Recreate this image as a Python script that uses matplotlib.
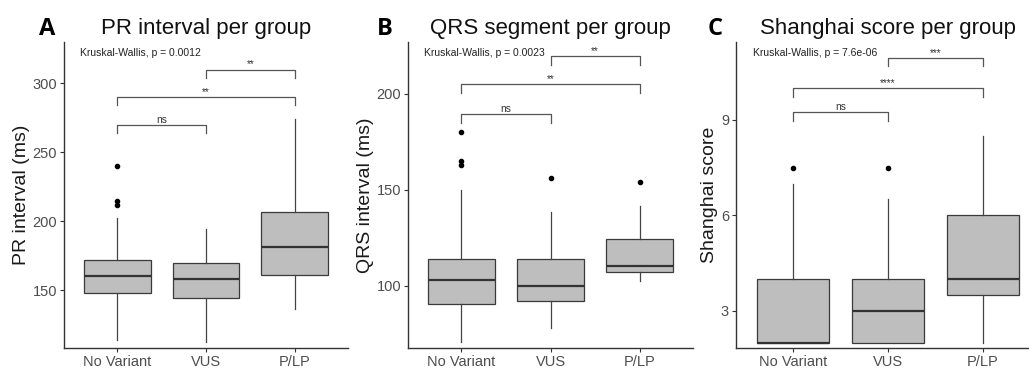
import matplotlib
matplotlib.use("Agg")
import matplotlib.pyplot as plt

groups = ["No Variant", "VUS", "P/LP"]

# A - PR interval
pr_q1 = [148, 144, 161]
pr_med = [160, 158, 181]
pr_q3 = [172, 170, 206.5]
pr_lo = [114, 112, 136]
pr_hi = [202, 194, 274]
pr_out = [[240, 215, 212], [], []]
pr_brackets = [270, 290, 310]
pr_stars = ["ns", "**", "**"]
pr_kw = "Kruskal-Wallis, p = 0.0012"

# B - QRS interval
qrs_q1 = [90.5, 92, 107.5]
qrs_med = [103, 100, 110.5]
qrs_q3 = [114, 114, 124.5]
qrs_lo = [71, 78, 102.5]
qrs_hi = [150, 138.5, 141.5]
qrs_out = [[180, 165, 163], [156], [154]]
qrs_brackets = [189.5, 205, 219.5]
qrs_stars = ["ns", "**", "**"]
qrs_kw = "Kruskal-Wallis, p = 0.0023"

# C - Shanghai score
sh_q1 = [2, 2, 3.5]
sh_med = [2, 3, 4]
sh_q3 = [4, 4, 6]
sh_lo = [2, 2, 2]
sh_hi = [7, 6.5, 8.5]
sh_out = [[7.5], [7.5], []]
sh_brackets = [9.25, 10.0, 10.95]
sh_stars = ["ns", "****", "***"]
sh_kw = "Kruskal-Wallis, p = 7.6e-06"

pairs = [(1, 2), (1, 3), (2, 3)]

panels = [
    dict(letter="A", title="PR interval per group", ylabel="PR interval (ms)",
         q1=pr_q1, med=pr_med, q3=pr_q3, lo=pr_lo, hi=pr_hi, out=pr_out,
         brk=pr_brackets, stars=pr_stars, kw=pr_kw, drop=6,
         ylim=(108, 330), yticks=[150, 200, 250, 300],
         pos=[64, 348], lx=47),
    dict(letter="B", title="QRS segment per group", ylabel="QRS interval (ms)",
         q1=qrs_q1, med=qrs_med, q3=qrs_q3, lo=qrs_lo, hi=qrs_hi, out=qrs_out,
         brk=qrs_brackets, stars=qrs_stars, kw=qrs_kw, drop=4.5,
         ylim=(67.7, 227), yticks=[100, 150, 200],
         pos=[408, 693], lx=385),
    dict(letter="C", title="Shanghai score per group", ylabel="Shanghai score",
         q1=sh_q1, med=sh_med, q3=sh_q3, lo=sh_lo, hi=sh_hi, out=sh_out,
         brk=sh_brackets, stars=sh_stars, kw=sh_kw, drop=0.27,
         ylim=(1.83, 11.45), yticks=[3, 6, 9],
         pos=[736, 1040], lx=715),
]

W, H = 1029, 376
fig = plt.figure(figsize=(W / 100, H / 100), dpi=100)
plt.rcParams['font.family'] = ['Liberation Sans', 'DejaVu Sans']

line_col = "#333333"
for p in panels:
    left, right = p["pos"]
    ax = fig.add_axes([left / W, 1 - 348 / H, (right - left) / W, (348 - 42) / H])
    stats = []
    for i in range(3):
        stats.append(dict(q1=p["q1"][i], med=p["med"][i], q3=p["q3"][i],
                          whislo=p["lo"][i], whishi=p["hi"][i], fliers=p["out"][i]))
    ax.bxp(stats, positions=[1, 2, 3], widths=0.75, patch_artist=True, showcaps=False,
           boxprops=dict(facecolor="#bebebe", edgecolor="#3a3a3a", linewidth=0.9),
           medianprops=dict(color=line_col, linewidth=1.6),
           whiskerprops=dict(color="#444444", linewidth=0.9),
           flierprops=dict(marker="o", markersize=3, markerfacecolor="black",
                           markeredgecolor="black"))
    # significance brackets
    for (a, b), yb, s in zip(pairs, p["brk"], p["stars"]):
        ax.plot([a, a, b, b], [yb - p["drop"], yb, yb, yb - p["drop"]],
                color="#555555", linewidth=0.9)
        ax.annotate(s, xy=((a + b) / 2, yb), xytext=(0, 1.5), textcoords="offset points",
                    ha="center", va="baseline", fontsize=7.3, color="#333333")
    ax.text(0.055, 0.964, p["kw"], transform=ax.transAxes, ha="left", va="center",
            fontsize=7.5, color="#222222")
    ax.set_xlim(0.4, 3.6)
    ax.set_ylim(*p["ylim"])
    ax.set_xticks([1, 2, 3])
    ax.set_xticklabels(groups)
    ax.set_yticks(p["yticks"])
    for sp in ["top", "right"]:
        ax.spines[sp].set_visible(False)
    for sp in ["left", "bottom"]:
        ax.spines[sp].set_color(line_col)
        ax.spines[sp].set_linewidth(1.0)
    ax.tick_params(colors=line_col, labelcolor="#4d4d4d", labelsize=10.5,
                   length=3, width=0.8, pad=2)
    ax.set_ylabel(p["ylabel"], fontsize=14, color="#1a1a1a", labelpad=2)
    ax.set_title(p["title"], fontsize=16, color="#111111", pad=6)
    fig.text(p["lx"] / W, 1 - 35 / H, p["letter"], ha="center", va="baseline",
             fontsize=17, fontweight="bold", family=["Open Sans", "DejaVu Sans"])

fig.savefig("out.png", dpi=100)
